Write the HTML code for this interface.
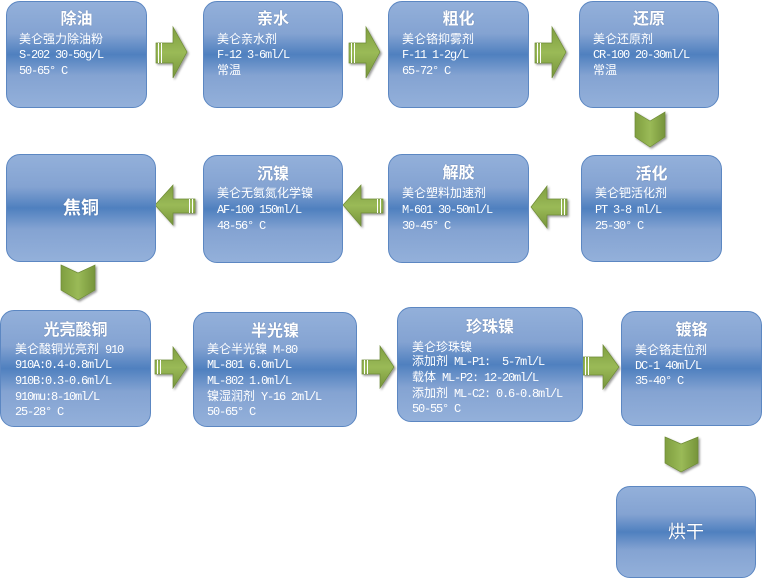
<!DOCTYPE html>
<html><head><meta charset="utf-8">
<style>
html,body{margin:0;padding:0;background:#fff;}
body{width:767px;height:579px;position:relative;overflow:hidden;font-family:"Liberation Sans","Noto Sans CJK SC",sans-serif;}
.b{position:absolute;box-sizing:border-box;border:1px solid #5c87c2;border-radius:14px;
background:linear-gradient(to bottom,#93b0da 0%,#84a3d2 30%,#4f80bf 50%,#84a3d2 70%,#93b0da 100%);}
.t{position:absolute;color:#fff;font-weight:bold;font-size:16px;line-height:20px;height:20px;text-align:center;white-space:nowrap;text-shadow:0 0 1px rgba(40,60,100,0.5);}
.l{position:absolute;color:#fff;font-size:12px;line-height:16px;height:16px;white-space:nowrap;font-family:"Liberation Sans","Noto Sans CJK SC",sans-serif;}
.m{font-family:"Liberation Mono",monospace;font-size:12px;letter-spacing:-1.2px;}
svg{position:absolute;left:0;top:0;}
</style></head><body>
<svg width="767" height="579" viewBox="0 0 767 579">
<defs>
<linearGradient id="gh" x1="0" y1="0" x2="0" y2="1">
<stop offset="0" stop-color="#7f9e40"/><stop offset="0.5" stop-color="#9aba57"/><stop offset="1" stop-color="#76943b"/>
</linearGradient>
<linearGradient id="gv" x1="0" y1="0" x2="1" y2="0">
<stop offset="0" stop-color="#7f9e40"/><stop offset="0.5" stop-color="#9aba57"/><stop offset="1" stop-color="#76943b"/>
</linearGradient>
<filter id="sh" x="-20%" y="-20%" width="150%" height="150%">
<feDropShadow dx="1.5" dy="1.5" stdDeviation="1" flood-color="#000" flood-opacity="0.4"/>
</filter>
</defs>
<g filter="url(#sh)" stroke="#6d8a36" stroke-width="0.7">
<polygon fill="url(#gh)" points="156,43 173,43 173,27 187,52 173,78 173,63 156,63"/>
<polygon fill="url(#gh)" points="349,43 366,43 366,27 380,52 366,78 366,63 349,63"/>
<polygon fill="url(#gh)" points="535,43 552,43 552,27 566,52 552,78 552,63 535,63"/>
<polygon fill="url(#gh)" points="155,205 173,185 173,199 195,199 195,213 173,213 173,225"/>
<polygon fill="url(#gh)" points="343,205 361,185 361,199 383,199 383,213 361,213 361,226"/>
<polygon fill="url(#gh)" points="531,207 547,186 547,199 567,199 567,215 547,215 547,228"/>
<polygon fill="url(#gh)" points="155,360 173,360 173,347 187,367 173,388 173,374 155,374"/>
<polygon fill="url(#gh)" points="362,360 380,360 380,346 394,367 380,388 380,374 362,374"/>
<polygon fill="url(#gh)" points="583,357 603,357 603,345 619,367 603,389 603,375 583,375"/>
<polygon fill="url(#gv)" points="635,112 650,121 665,112 665,137 650,147 635,137"/>
<polygon fill="url(#gv)" points="61,265 78,273 95,265 95,290 78,300 61,290"/>
<polygon fill="url(#gv)" points="665,437 681,444 698,437 698,463 681,472 665,463"/>
</g>
<g stroke="#fff" stroke-width="1">
<line x1="158.5" y1="43" x2="158.5" y2="63"/><line x1="161.5" y1="43" x2="161.5" y2="63"/>
<line x1="351.5" y1="43" x2="351.5" y2="63"/><line x1="354.5" y1="43" x2="354.5" y2="63"/>
<line x1="537.5" y1="43" x2="537.5" y2="63"/><line x1="540.5" y1="43" x2="540.5" y2="63"/>
<line x1="192.5" y1="199" x2="192.5" y2="213"/><line x1="189.5" y1="199" x2="189.5" y2="213"/>
<line x1="380.5" y1="199" x2="380.5" y2="213"/><line x1="377.5" y1="199" x2="377.5" y2="213"/>
<line x1="564.5" y1="199" x2="564.5" y2="215"/><line x1="561.5" y1="199" x2="561.5" y2="215"/>
<line x1="157.5" y1="360" x2="157.5" y2="374"/><line x1="160.5" y1="360" x2="160.5" y2="374"/>
<line x1="364.5" y1="360" x2="364.5" y2="374"/><line x1="367.5" y1="360" x2="367.5" y2="374"/>
<line x1="585.5" y1="357" x2="585.5" y2="375"/><line x1="588.5" y1="357" x2="588.5" y2="375"/>
</g>
</svg>

<!-- Row 1 -->
<div class="b" style="left:6px;top:1px;width:141px;height:107px"></div>
<div class="t" style="left:6px;top:10px;width:141px">除油</div>
<div class="l" style="left:19px;top:31px">美仑强力除油粉</div>
<div class="l" style="left:19px;top:46px"><span class="m">S-202 30-50g/L</span></div>
<div class="l" style="left:19px;top:62px"><span class="m">50-65° C</span></div>

<div class="b" style="left:203px;top:1px;width:140px;height:107px"></div>
<div class="t" style="left:203px;top:10px;width:140px">亲水</div>
<div class="l" style="left:217px;top:31px">美仑亲水剂</div>
<div class="l" style="left:217px;top:46px"><span class="m">F-12 3-6ml/L</span></div>
<div class="l" style="left:217px;top:62px">常温</div>

<div class="b" style="left:388px;top:1px;width:141px;height:107px"></div>
<div class="t" style="left:388px;top:10px;width:141px">粗化</div>
<div class="l" style="left:402px;top:31px">美仑铬抑雾剂</div>
<div class="l" style="left:402px;top:46px"><span class="m">F-11 1-2g/L</span></div>
<div class="l" style="left:402px;top:62px"><span class="m">65-72° C</span></div>

<div class="b" style="left:579px;top:1px;width:140px;height:107px"></div>
<div class="t" style="left:579px;top:10px;width:140px">还原</div>
<div class="l" style="left:593px;top:31px">美仑还原剂</div>
<div class="l" style="left:593px;top:46px"><span class="m">CR-100 20-30ml/L</span></div>
<div class="l" style="left:593px;top:62px">常温</div>

<!-- Row 2 -->
<div class="b" style="left:6px;top:154px;width:150px;height:108px"></div>
<div class="t" style="left:6px;top:197px;width:150px;font-size:18px;line-height:22px;height:22px">焦铜</div>

<div class="b" style="left:203px;top:155px;width:140px;height:108px"></div>
<div class="t" style="left:203px;top:165px;width:140px">沉镍</div>
<div class="l" style="left:217px;top:185px">美仑无氨氮化学镍</div>
<div class="l" style="left:217px;top:201px"><span class="m">AF-100 150ml/L</span></div>
<div class="l" style="left:217px;top:217px"><span class="m">48-56° C</span></div>

<div class="b" style="left:388px;top:154px;width:141px;height:109px"></div>
<div class="t" style="left:388px;top:164px;width:141px">解胶</div>
<div class="l" style="left:402px;top:185px">美仑塑料加速剂</div>
<div class="l" style="left:402px;top:201px"><span class="m">M-601 30-50ml/L</span></div>
<div class="l" style="left:402px;top:217px"><span class="m">30-45° C</span></div>

<div class="b" style="left:581px;top:155px;width:141px;height:107px"></div>
<div class="t" style="left:581px;top:165px;width:141px">活化</div>
<div class="l" style="left:595px;top:185px">美仑钯活化剂</div>
<div class="l" style="left:595px;top:201px"><span class="m">PT 3-8 ml/L</span></div>
<div class="l" style="left:595px;top:217px"><span class="m">25-30° C</span></div>

<!-- Row 3 -->
<div class="b" style="left:0px;top:310px;width:151px;height:117px"></div>
<div class="t" style="left:0px;top:321px;width:151px">光亮酸铜</div>
<div class="l" style="left:15px;top:341px">美仑酸铜光亮剂<span class="m"> 910</span></div>
<div class="l" style="left:15px;top:356px"><span class="m">910A:0.4-0.8ml/L</span></div>
<div class="l" style="left:15px;top:372px"><span class="m">910B:0.3-0.6ml/L</span></div>
<div class="l" style="left:15px;top:388px"><span class="m">910mu:8-10ml/L</span></div>
<div class="l" style="left:15px;top:403px"><span class="m">25-28° C</span></div>

<div class="b" style="left:193px;top:312px;width:164px;height:115px"></div>
<div class="t" style="left:193px;top:322px;width:164px">半光镍</div>
<div class="l" style="left:207px;top:341px">美仑半光镍<span class="m"> M-80</span></div>
<div class="l" style="left:207px;top:356px"><span class="m">ML-801 6.0ml/L</span></div>
<div class="l" style="left:207px;top:372px"><span class="m">ML-802 1.0ml/L</span></div>
<div class="l" style="left:207px;top:388px">镍湿润剂<span class="m"> Y-16 2ml/L</span></div>
<div class="l" style="left:207px;top:403px"><span class="m">50-65° C</span></div>

<div class="b" style="left:397px;top:307px;width:186px;height:115px"></div>
<div class="t" style="left:397px;top:318px;width:186px">珍珠镍</div>
<div class="l" style="left:412px;top:339px">美仑珍珠镍</div>
<div class="l" style="left:412px;top:353px">添加剂<span class="m"> ML-P1:&nbsp; 5-7ml/L</span></div>
<div class="l" style="left:412px;top:369px">载体<span class="m"> ML-P2: 12-20ml/L</span></div>
<div class="l" style="left:412px;top:385px">添加剂<span class="m"> ML-C2: 0.6-0.8ml/L</span></div>
<div class="l" style="left:412px;top:400px"><span class="m">50-55° C</span></div>

<div class="b" style="left:621px;top:311px;width:141px;height:115px"></div>
<div class="t" style="left:621px;top:321px;width:141px">镀铬</div>
<div class="l" style="left:635px;top:342px">美仑铬走位剂</div>
<div class="l" style="left:635px;top:357px"><span class="m">DC-1 40ml/L</span></div>
<div class="l" style="left:635px;top:372px"><span class="m">35-40° C</span></div>

<!-- Row 4 -->
<div class="b" style="left:616px;top:486px;width:140px;height:92px"></div>
<div class="t" style="left:616px;top:521px;width:140px;font-weight:normal;font-size:18px;line-height:22px;height:22px">烘干</div>
</body></html>
